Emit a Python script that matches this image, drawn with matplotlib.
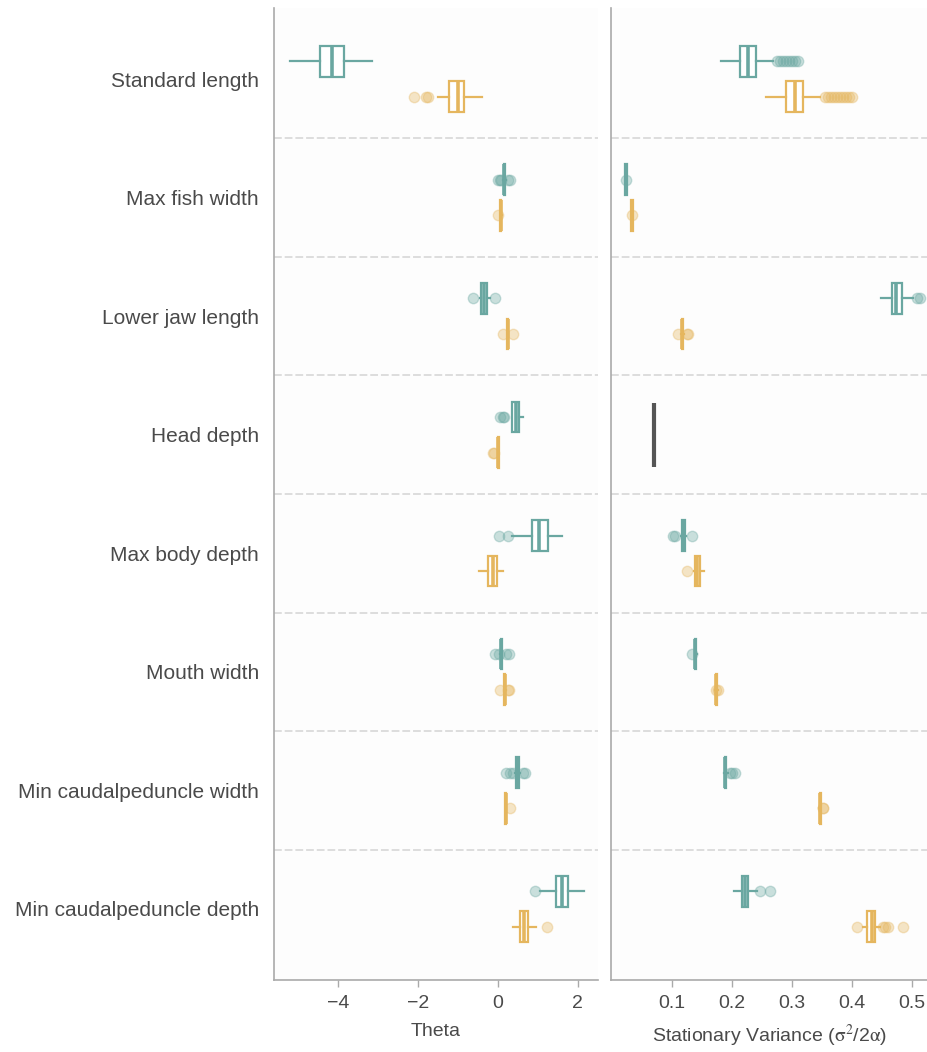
import matplotlib
matplotlib.use('Agg')
import matplotlib.pyplot as plt

plt.rcParams['font.family'] = ['Liberation Sans', 'DejaVu Sans']
plt.rcParams['mathtext.fontset'] = 'stix'

traits = ['Standard length', 'Max fish width', 'Lower jaw length', 'Head depth',
          'Max body depth', 'Mouth width', 'Min caudalpeduncle width',
          'Min caudalpeduncle depth']

# (whisker low, q1, median, q3, whisker high) per trait
theta_teal = [(-5.2, -4.45, -4.16, -3.85, -3.16), (0.12, 0.14, 0.16, 0.18, 0.2),
              (-0.45, -0.42, -0.35, -0.27, -0.2), (0.36, 0.36, 0.44, 0.53, 0.63),
              (0.36, 0.86, 1.03, 1.24, 1.61), (0.06, 0.07, 0.08, 0.1, 0.11),
              (0.42, 0.45, 0.48, 0.52, 0.55), (1.05, 1.44, 1.6, 1.76, 2.15)]
theta_teal_out = [[], [0.0, 0.05, 0.08, 0.25, 0.3], [-0.62, -0.07], [0.05, 0.13, 0.15],
                  [0.03, 0.26], [-0.07, 0.03, 0.2, 0.28], [0.2, 0.3, 0.38, 0.62, 0.68], [0.93]]

theta_gold = [(-1.49, -1.22, -0.99, -0.85, -0.41), (0.05, 0.06, 0.07, 0.08, 0.09),
              (0.22, 0.23, 0.24, 0.25, 0.26), (0.0, 0.0, 0.01, 0.02, 0.03),
              (-0.47, -0.24, -0.13, -0.03, 0.13), (0.15, 0.16, 0.17, 0.18, 0.19),
              (0.18, 0.185, 0.19, 0.195, 0.2), (0.37, 0.55, 0.65, 0.76, 0.94)]
theta_gold_out = [[-2.09, -1.8, -1.75], [-0.01], [0.13, 0.37], [-0.13, -0.1],
                  [], [0.05, 0.26, 0.28], [0.3], [1.22]]

var_teal = [(0.181, 0.213, 0.227, 0.24, 0.269), (0.021, 0.022, 0.023, 0.024, 0.025),
            (0.448, 0.467, 0.474, 0.483, 0.502), None,
            (0.114, 0.116, 0.118, 0.121, 0.123), (0.138, 0.139, 0.139, 0.14, 0.141),
            (0.187, 0.188, 0.189, 0.19, 0.194), (0.204, 0.216, 0.221, 0.227, 0.241)]
var_teal_out = [[0.275, 0.28, 0.285, 0.29, 0.295, 0.3, 0.305, 0.31], [0.023],
                [0.508, 0.513], [], [0.101, 0.104, 0.133], [0.134],
                [0.197, 0.2, 0.205], [0.247, 0.264]]

var_gold = [(0.256, 0.29, 0.305, 0.319, 0.347), (0.031, 0.032, 0.033, 0.034, 0.035),
            (0.115, 0.116, 0.117, 0.118, 0.12), None,
            (0.137, 0.138, 0.142, 0.146, 0.153), (0.172, 0.173, 0.174, 0.175, 0.176),
            (0.345, 0.346, 0.347, 0.348, 0.349), (0.419, 0.426, 0.433, 0.438, 0.447)]
var_gold_out = [[0.355, 0.36, 0.365, 0.37, 0.375, 0.38, 0.385, 0.39, 0.395, 0.4], [0.033],
                [0.11, 0.124, 0.126], [], [0.124], [0.174, 0.176],
                [0.351, 0.352], [0.409, 0.452, 0.456, 0.461, 0.485]]

head_depth_var = 0.069

TEAL = '#6aa7a1'
GOLD = '#e5b65e'
TEXT = '#4a4a4a'


def draw_group(ax, summary, outliers, color, offset):
    stats, pos = [], []
    for i, (s, out) in enumerate(zip(summary, outliers)):
        if s is None:
            continue
        lo, q1, med, q3, hi = s
        stats.append(dict(whislo=lo, q1=q1, med=med, q3=q3, whishi=hi, fliers=out))
        pos.append(i + offset)
    ax.bxp(stats, positions=pos, widths=0.26, orientation='horizontal',
           showcaps=False, patch_artist=True,
           boxprops=dict(facecolor='white', edgecolor=color, linewidth=1.6),
           medianprops=dict(color=color, linewidth=2.6),
           whiskerprops=dict(color=color, linewidth=1.6),
           flierprops=dict(marker='o', markersize=7.5, markerfacecolor=color,
                           markeredgecolor=color, alpha=0.35))


fig = plt.figure(figsize=(9.28, 10.52), dpi=100)
ax1 = fig.add_axes([0.2953, 0.0684, 0.349, 0.924])
ax2 = fig.add_axes([0.6584, 0.0684, 0.3416, 0.924])

draw_group(ax1, theta_teal, theta_teal_out, TEAL, -0.15)
draw_group(ax1, theta_gold, theta_gold_out, GOLD, 0.15)
draw_group(ax2, var_teal, var_teal_out, TEAL, -0.15)
draw_group(ax2, var_gold, var_gold_out, GOLD, 0.15)
ax2.vlines(head_depth_var, traits.index('Head depth') - 0.27,
           traits.index('Head depth') + 0.27, color='#555555', linewidth=3)

for ax in (ax1, ax2):
    ax.set_facecolor('#fdfdfd')
    ax.set_ylim(len(traits) - 0.4, -0.6)
    for i in range(len(traits) - 1):
        ax.axhline(i + 0.5, color='#dddddd', linestyle=(0, (4, 1.5)), linewidth=1.4,
                   zorder=0)
    for side in ('top', 'right'):
        ax.spines[side].set_visible(False)
    for side in ('left', 'bottom'):
        ax.spines[side].set_color('#aaaaaa')
        ax.spines[side].set_linewidth(1.2)
    ax.tick_params(axis='x', colors='#aaaaaa', labelcolor=TEXT, labelsize=14,
                   length=5, width=1, pad=6)

ax1.set_yticks(range(len(traits)))
ax1.set_yticklabels(traits, fontsize=15, color=TEXT)
ax1.tick_params(axis='y', length=0, pad=11)
ax2.set_yticks([])

ax1.set_xlim(-5.6, 2.5)
ax1.set_xticks([-4, -2, 0, 2])
ax1.set_xticklabels(['\u22124', '\u22122', '0', '2'])
ax2.set_xlim(-0.002, 0.527)
ax2.set_xticks([0.1, 0.2, 0.3, 0.4, 0.5])

ax1.set_xlabel('Theta', fontsize=14, color=TEXT)
ax2.set_xlabel(r'Stationary Variance ($\mathrm{\sigma}^2$/2$\mathrm{\alpha}$)',
               fontsize=14, color=TEXT)
for ax in (ax1, ax2):
    ax.xaxis.set_label_coords(0.5, -0.044)
    ax.xaxis.label.set_va('top')

fig.savefig('out.png', dpi=100, facecolor='white')
